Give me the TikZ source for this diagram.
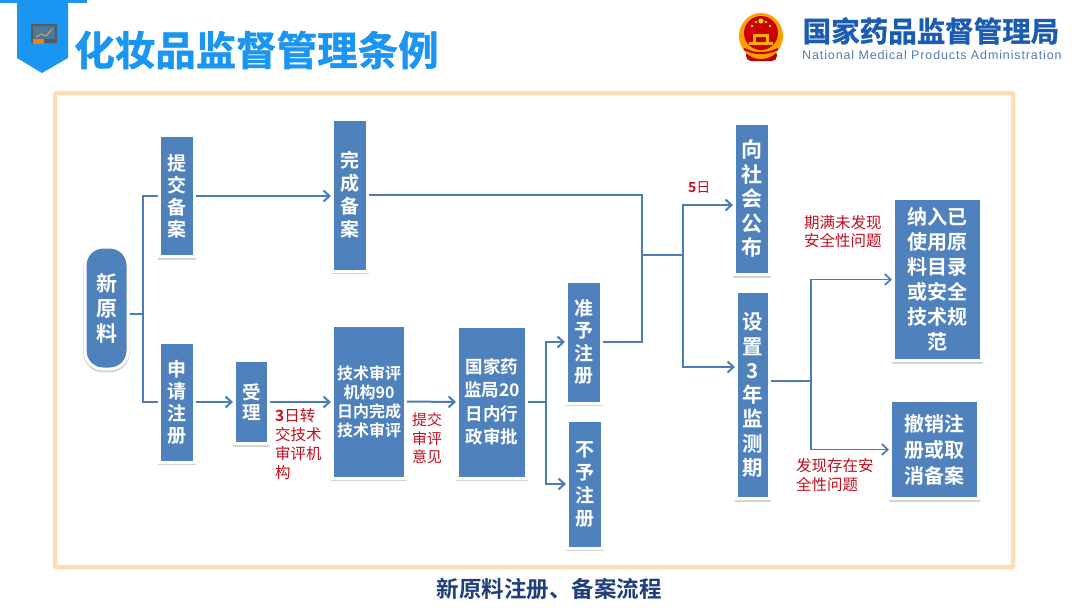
\documentclass[tikz,border=0pt]{standalone}
\usepackage{fontspec}
\setmainfont{Noto Sans CJK SC}[BoldFont={Noto Sans CJK SC Bold}]
\newfontfamily\lat{Liberation Sans}[LetterSpace=7]
\newfontfamily\heavy{Noto Sans CJK SC Bold}[FakeBold=1.2]
\usetikzlibrary{arrows.meta,shadows,calc}
\definecolor{boxblue}{HTML}{4F81BD}
\definecolor{linkblue}{HTML}{4A7DB8}
\definecolor{ribbon}{HTML}{1A96F2}
\definecolor{frameor}{HTML}{FDDDB4}
\definecolor{redtxt}{HTML}{C00F1E}
\definecolor{capblue}{HTML}{1F3F78}
\definecolor{agencyblue}{HTML}{1B5CB3}
\tikzset{
 x=1pt,y=-1pt,
 stepbox/.style={rectangle,fill=boxblue,draw=white,line width=3pt,inner sep=0pt,text=white,
   align=center,font=\bfseries,drop shadow={shadow xshift=0pt,shadow yshift=-1.6pt,fill=black,draw=black,line width=3.6pt,opacity=.17}},
 link/.style={draw=linkblue,line width=2pt},
 thinlink/.style={draw=linkblue,line width=1.5pt},
 arr/.style={link,-{Straight Barb[length=6pt,width=11pt,line width=2pt]}},
 thinarr/.style={thinlink,-{Straight Barb[length=6pt,width=11pt,line width=1.7pt]}},
 note/.style={text=redtxt,inner sep=0pt,align=left},
}
\newcommand{\fs}[2]{\fontsize{#1}{#2}\selectfont}
\begin{document}
\begin{tikzpicture}
\useasboundingbox (0,0) rectangle (1080,608);
\fill[white] (0,0) rectangle (1080,608);
% ribbon
\fill[ribbon] (0,0) rectangle (87,3);
\fill[ribbon] (17,0) -- (68,0) -- (68,58) -- (42,73) -- (17,58) -- cycle;
\fill[rounded corners=1pt,fill=black!30!gray] (31,24) rectangle (57,43);
\fill[fill=black!20!gray!60!ribbon] (33,26) rectangle (55,39);
\draw[orange!80!white,line width=1pt] (36,37) -- (41,34) -- (46,36) -- (52,29);
\fill[orange!70!brown] (33,39) rectangle (44,44);
% title
\node[inner sep=0pt,text=ribbon,font=\heavy\fs{40.5}{44}] (title) at (256.5,50) {化妆品监督管理条例};
% emblem
\fill[rounded corners=5pt,fill=red!75!black] (746,50) rectangle (777,61);
\fill[fill=orange!75!yellow] (761,36) ellipse [x radius=22,y radius=23];
\fill[fill=red!80!black] (761,33) ellipse [x radius=17,y radius=17];
\fill[fill=yellow!85!orange] (761,21) circle (2.5);
\foreach \a/\b in {752/26,756/22,766/22,770/26} \fill[fill=yellow!85!orange] (\a,\b) circle (1.3);
\fill[fill=orange!60!yellow] (749,42) rectangle (773,45);
\fill[fill=orange!60!yellow] (753,34) rectangle (769,42);
\fill[fill=red!75!black] (756,37) rectangle (766,42);
\draw[red!75!black,line width=2pt] (744,49) to[bend right=25] (778,49);
% agency name
\node[inner sep=0pt,text=agencyblue,font=\heavy\fs{28.5}{30}] (agency) at (931,31) {国家药品监督管理局};
\node[inner sep=0pt,text=linkblue!85!gray,font=\lat\fs{12.5}{14},anchor=west] (agencyen) at (802,55) {National Medical Products Administration};
% frame
\draw[frameor,line width=4.5pt,rounded corners=1pt] (55,93) rectangle (1013,567);
% boxes
\node[stepbox,rounded corners=18pt,minimum width=43pt,minimum height=122pt,font=\fs{21}{25}\bfseries] (xin) at (106.5,308) {新\\原\\料};
\node[stepbox,minimum width=35pt,minimum height=121pt,font=\fs{19}{22}\bfseries] (tijiao) at (177,196) {提\\交\\备\\案};
\node[stepbox,minimum width=35pt,minimum height=120pt,font=\fs{19}{22}\bfseries] (shenqing) at (177,402) {申\\请\\注\\册};
\node[stepbox,minimum width=34pt,minimum height=83pt,font=\fs{18.5}{20.5}\bfseries] (shouli) at (251.5,402) {受\\理};
\node[stepbox,minimum width=35pt,minimum height=152pt,font=\fs{19}{23}\bfseries] (wancheng) at (350,195) {完\\成\\备\\案};
\node[stepbox,minimum width=73pt,minimum height=153pt,font=\fs{16}{19}\bfseries] (jishu) at (369,401.5) {技术审评\\机构90\\日内完成\\技术审评};
\node[stepbox,minimum width=69pt,minimum height=152pt,font=\fs{17.5}{23.5}\bfseries] (guojia) at (492,402) {国家药\\监局20\\日内行\\政审批};
\node[stepbox,minimum width=35pt,minimum height=122pt,font=\fs{19}{22.5}\bfseries] (zhunyu) at (584,342) {准\\予\\注\\册};
\node[stepbox,minimum width=35pt,minimum height=128pt,font=\fs{19}{23}\bfseries] (buyu) at (585,484) {不\\予\\注\\册};
\node[stepbox,minimum width=35pt,minimum height=151pt,font=\fs{21}{24.5}\bfseries] (xiang) at (752,199) {向\\社\\会\\公\\布};
\node[stepbox,minimum width=33pt,minimum height=207pt,font=\fs{20.5}{24.3}\bfseries] (shezhi) at (753,395) {设\\置\\3\\年\\监\\测\\期};
\node[stepbox,minimum width=88pt,minimum height=162pt,font=\fs{20}{25}\bfseries] (naru) at (937.5,279.5) {纳入已\\使用原\\料目录\\或安全\\技术规\\范};
\node[stepbox,minimum width=88pt,minimum height=98pt,font=\fs{20}{26}\bfseries] (chexiao) at (934.5,449.5) {撤销注\\册或取\\消备案};
% junctions
\coordinate (j1) at (143,314);
\coordinate (j2) at (642,255);
\coordinate (j3) at (683,255);
\coordinate (j4) at (811,381);
\coordinate (j5) at (546,402);
\coordinate (c1) at (642,195);
\coordinate (s1) at (shezhi.east |- j4);
% connectors
\draw[link] (xin.east |- j1) -- (j1);
\draw[link] (tijiao.west) -| (j1) |- (shenqing.west);
\draw[arr] (tijiao.east) -- (wancheng.west |- tijiao.east);
\draw[link] (wancheng.east |- c1) -- (c1) -- (c1 |- zhunyu.east) -- (zhunyu.east);
\draw[link] (j2) -- (j3);
\draw[arr] (j3) |- (xiang.west |- 0,205);
\draw[arr] (j3) |- (shezhi.west |- 0,367);
\draw[arr] (shenqing.east) -- (shouli.west);
\draw[arr] (shouli.east) -- (jishu.west |- shouli.east);
\draw[arr] (jishu.east) -- (guojia.west);
\draw[link] (guojia.east) -- (j5);
\draw[arr] (j5) |- (zhunyu.west);
\draw[arr] (j5) |- (buyu.west);
\draw[thinlink] (s1) -- (j4);
\draw[thinarr] (j4) |- (naru.west);
\draw[thinarr] (j4) |- (chexiao.west);
% labels
\node[note,anchor=north west,font=\fs{15.5}{19}] (n1) at (275,408) {\textbf{3}日转\\交技术\\审评机\\构};
\node[note,anchor=north west,font=\fs{15}{18.5}] (n2) at (412,413) {提交\\审评\\意见};
\node[note,anchor=west,font=\fs{14}{16}] (n3) at (688,188) {\textbf{5}日};
\node[note,anchor=west,font=\fs{15.5}{18}] (n4) at (804,232) {期满未发现\\安全性问题};
\node[note,anchor=west,font=\fs{15.5}{18.5}] (n5) at (796,475) {发现存在安\\全性问题};
\node[inner sep=0pt,text=capblue,font=\fs{22.5}{25}\bfseries] (cap) at (549,589) {新原料注册、备案流程};
\end{tikzpicture}
\end{document}
